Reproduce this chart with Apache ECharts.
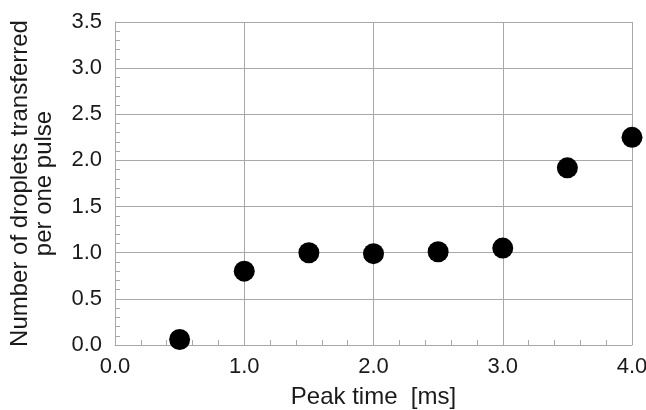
<!DOCTYPE html>
<html>
<head>
<meta charset="utf-8">
<script src="https://cdn.jsdelivr.net/npm/echarts@6/dist/echarts.min.js"></script>
<style>
  html, body { margin: 0; padding: 0; background: #fff; }
  #chart { width: 646px; height: 410px; }
</style>
</head>
<body>
<div id="chart"></div>
<script>
// Peak time of the drive pulse [ms]
const peakTime = [0.5, 1.0, 1.5, 2.0, 2.5, 3.0, 3.5, 4.0];
// Mean number of droplets transferred per pulse
const dropletsPerPulse = [0.06, 0.80, 1.00, 0.99, 1.01, 1.05, 1.92, 2.25];

const xAxisTitle = 'Peak time  [ms]';
const yAxisTitle = 'Number of droplets transferred\nper one pulse';

const FONT = '"Liberation Sans", Arial, sans-serif';
const GRID_COLOR = '#a8a8a8';
const TEXT_COLOR = '#1a1a1a';

const chart = echarts.init(document.getElementById('chart'), null, { renderer: 'canvas' });

const axisCommon = {
  axisLine: { show: true, lineStyle: { color: GRID_COLOR, width: 1 } },
  axisTick: { show: true, inside: true, length: 5, lineStyle: { color: GRID_COLOR } },
  minorTick: { show: true, splitNumber: 5, length: 5, lineStyle: { color: GRID_COLOR } },
  splitLine: { show: true, lineStyle: { color: GRID_COLOR, width: 1 } },
  axisLabel: {
    color: TEXT_COLOR, fontFamily: FONT, fontSize: 22,
    formatter: v => v.toFixed(1)
  },
  nameTextStyle: { color: TEXT_COLOR, fontFamily: FONT, fontSize: 24 }
};

chart.setOption({
  animation: false,
  backgroundColor: '#ffffff',
  grid: { left: 115, right: 14, top: 22, bottom: 65, outerBoundsMode: 'none', containLabel: false },
  xAxis: Object.assign({}, axisCommon, {
    type: 'value', min: 0, max: 4, interval: 1,
    name: xAxisTitle, nameLocation: 'middle', nameGap: 40,
    axisLabel: Object.assign({}, axisCommon.axisLabel, { margin: 11 })
  }),
  yAxis: Object.assign({}, axisCommon, {
    type: 'value', min: 0, max: 3.5, interval: 0.5,
    name: yAxisTitle, nameLocation: 'middle', nameGap: 59,
    nameTextStyle: Object.assign({}, axisCommon.nameTextStyle, { lineHeight: 24 }),
    axisLabel: Object.assign({}, axisCommon.axisLabel, { margin: 13 })
  }),
  series: [{
    type: 'scatter',
    data: peakTime.map((t, i) => [t, dropletsPerPulse[i]]),
    symbol: 'circle',
    symbolSize: 21,
    itemStyle: { color: '#000000', opacity: 1 },
    z: 5
  }]
});
</script>
</body>
</html>
